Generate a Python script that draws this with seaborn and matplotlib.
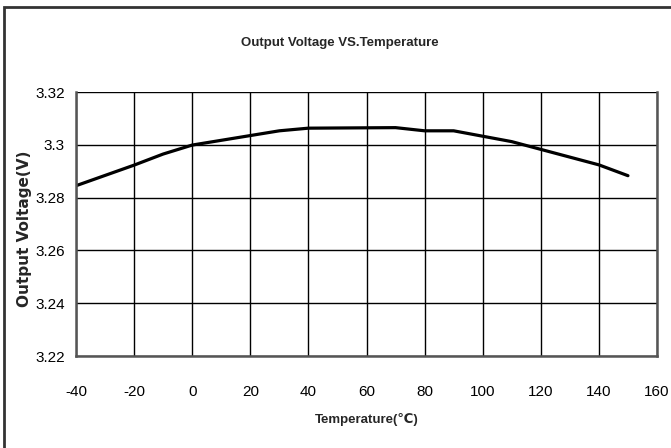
import matplotlib
matplotlib.use("Agg")
import matplotlib.pyplot as plt
import seaborn as sns
import pandas as pd
from matplotlib.patches import Rectangle

# values
temperature = [-40, -20, -10, 0, 20, 30, 40, 70, 80, 90, 110, 140, 150]
voltage = [3.2845, 3.2923, 3.2965, 3.2999, 3.3035, 3.3053, 3.3063, 3.3065,
           3.3053, 3.3053, 3.3012, 3.2924, 3.2883]
x_ticks = [-40, -20, 0, 20, 40, 60, 80, 100, 120, 140, 160]
y_ticks = [3.22, 3.24, 3.26, 3.28, 3.3, 3.32]
y_tick_labels = ["3.22", "3.24", "3.26", "3.28", "3.3", "3.32"]

df = pd.DataFrame({"Temperature": temperature, "Voltage": voltage})

sns.set_theme(style="white")
narrow = ["Liberation Sans Narrow", "Liberation Sans", "DejaVu Sans"]
plt.rcParams["font.family"] = narrow
plt.rcParams["axes.unicode_minus"] = False

fig = plt.figure(figsize=(6.71, 4.48), dpi=100)
ax = fig.add_axes([76 / 671, 92 / 448, 581 / 671, 264 / 448])

sns.lineplot(data=df, x="Temperature", y="Voltage", ax=ax,
             color="black", linewidth=2.3)

ax.set_xlim(-40, 160)
ax.set_ylim(3.22, 3.32)
ax.set_xticks(x_ticks)
ax.set_yticks(y_ticks)
ax.set_yticklabels(y_tick_labels)
ax.tick_params(axis="both", length=0, labelsize=11, colors="black")
ax.tick_params(axis="x", pad=21)
ax.tick_params(axis="y", pad=8)
ax.grid(True, color="black", linewidth=1.0)
for side in ["left", "bottom", "right"]:
    ax.spines[side].set_color("#555555")
    ax.spines[side].set_linewidth(1.8)
ax.spines["top"].set_visible(False)

ax.set_xlabel("")
ax.set_ylabel("")
fig.text(367 / 671, 1 - 419 / 448, "Temperature(\u2103)", ha="center", va="center",
         fontsize=9.5, fontweight="bold", family=narrow)
fig.text(25 / 671, 1 - 229 / 448, "Output Voltage(V)", ha="center", va="center",
         rotation=90, fontsize=11, fontweight="bold",
         family=["DejaVu Sans"])
fig.text(340 / 671, 1 - 43 / 448, "Output Voltage VS.Temperature", ha="center",
         va="center", fontsize=9.5, fontweight="bold", family=narrow)

# frame around the whole figure
fig.patches.append(Rectangle((4 / 671, -0.1), 1.2, 1 - 7 / 448 + 0.1,
                             transform=fig.transFigure, fill=False,
                             edgecolor="#333333", linewidth=2))

fig.savefig("out.png", dpi=100)
